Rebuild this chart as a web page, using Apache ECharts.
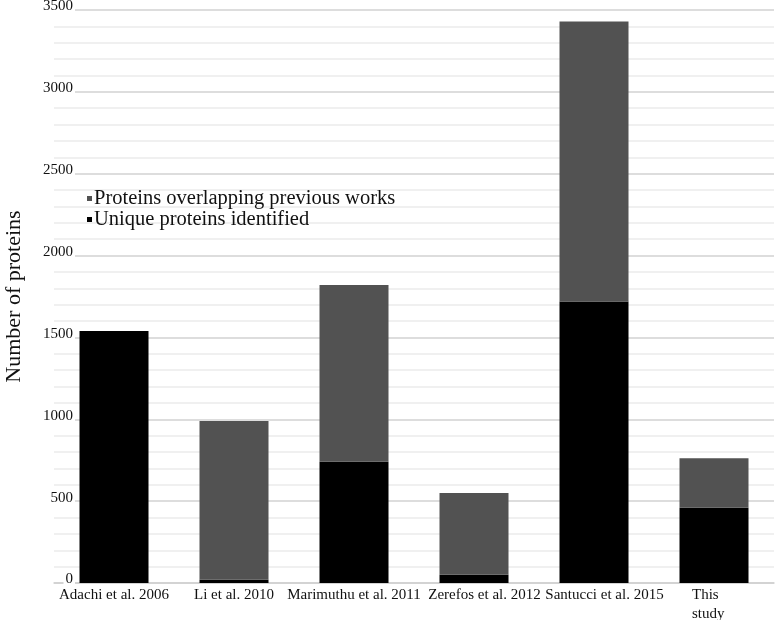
<!DOCTYPE html>
<html>
<head>
<meta charset="utf-8">
<script src="https://cdn.jsdelivr.net/npm/echarts@6/dist/echarts.min.js"></script>
<style>html,body{margin:0;padding:0;background:#fff}#c{width:777px;height:620px}</style>
</head>
<body>
<div id="c"></div>
<script>
var categories = ['Adachi et al. 2006', 'Li et al. 2010', 'Marimuthu et al. 2011', 'Zerefos et al. 2012', 'Santucci et al. 2015', 'This study'];
var uniqueProteins = [1540, 20, 740, 50, 1720, 460];
var overlappingProteins = [0, 970, 1080, 500, 1710, 302];
var seriesNames = ['Unique proteins identified', 'Proteins overlapping previous works'];
var yTicks = [0, 500, 1000, 1500, 2000, 2500, 3000, 3500];

var serif = '"Liberation Serif", "DejaVu Serif", serif';
var labelStyle = {fontFamily: serif, fontSize: 15, color: '#111', lineHeight: 19};
var chart = echarts.init(document.getElementById('c'), null, {renderer: 'canvas'});
chart.setOption({
  animation: false,
  backgroundColor: '#fff',
  grid: {left: 54, right: 3, top: 10, bottom: 37, containLabel: false, outerBoundsMode: 'none'},
  legend: {
    orient: 'vertical', left: 82, top: 183,
    data: [seriesNames[1], seriesNames[0]],
    itemWidth: 5, itemHeight: 5, itemGap: 0,
    icon: 'rect',
    textStyle: {fontFamily: serif, fontSize: 20.5, lineHeight: 21, color: '#111', padding: [0, 0, 0, -3]}
  },
  xAxis: {
    type: 'category', data: categories,
    axisLine: {lineStyle: {color: '#cfcfcf', width: 1.5}},
    axisTick: {show: false},
    axisLabel: {
      fontFamily: serif, fontSize: 15, color: '#111', margin: 3, interval: 0, lineHeight: 19,
      formatter: function (v, i) {
        if (v === 'This study') return '{a|This}\n{a|study}';
        if (i === 3 || i === 4) return '{r|' + v + '}';
        return v;
      },
      rich: {
        a: Object.assign({width: 44, align: 'left'}, labelStyle),
        r: Object.assign({padding: [0, 0, 0, 21]}, labelStyle)
      }
    }
  },
  yAxis: {
    type: 'value', min: yTicks[0], max: yTicks[yTicks.length - 1], interval: 500,
    name: 'Number of proteins', nameLocation: 'middle', nameGap: 29, nameRotate: 90,
    nameTextStyle: {fontFamily: serif, fontSize: 22, color: '#111'},
    axisLine: {show: false}, axisTick: {show: false},
    axisLabel: {
      margin: -21, backgroundColor: '#fff', padding: [0, 2, 0, 2], verticalAlign: 'middle',
      formatter: function (v) { return '{v|' + v + '}\n{g|}'; },
      rich: {
        v: {fontFamily: serif, fontSize: 15, color: '#111', lineHeight: 16},
        g: {fontSize: 7, lineHeight: 7, height: 7}
      }
    },
    splitLine: {lineStyle: {color: '#d2d2d2', width: 1.5}},
    minorTick: {show: false, splitNumber: 5},
    minorSplitLine: {show: true, lineStyle: {color: '#ececec', width: 1.5}}
  },
  series: [
    {name: seriesNames[0], type: 'bar', stack: 's', data: uniqueProteins, barCategoryGap: '42.5%', itemStyle: {color: '#000'}, z: 3},
    {name: seriesNames[1], type: 'bar', stack: 's', data: overlappingProteins, barCategoryGap: '42.5%', itemStyle: {color: '#525252'}, z: 3}
  ]
});
</script>
</body>
</html>
